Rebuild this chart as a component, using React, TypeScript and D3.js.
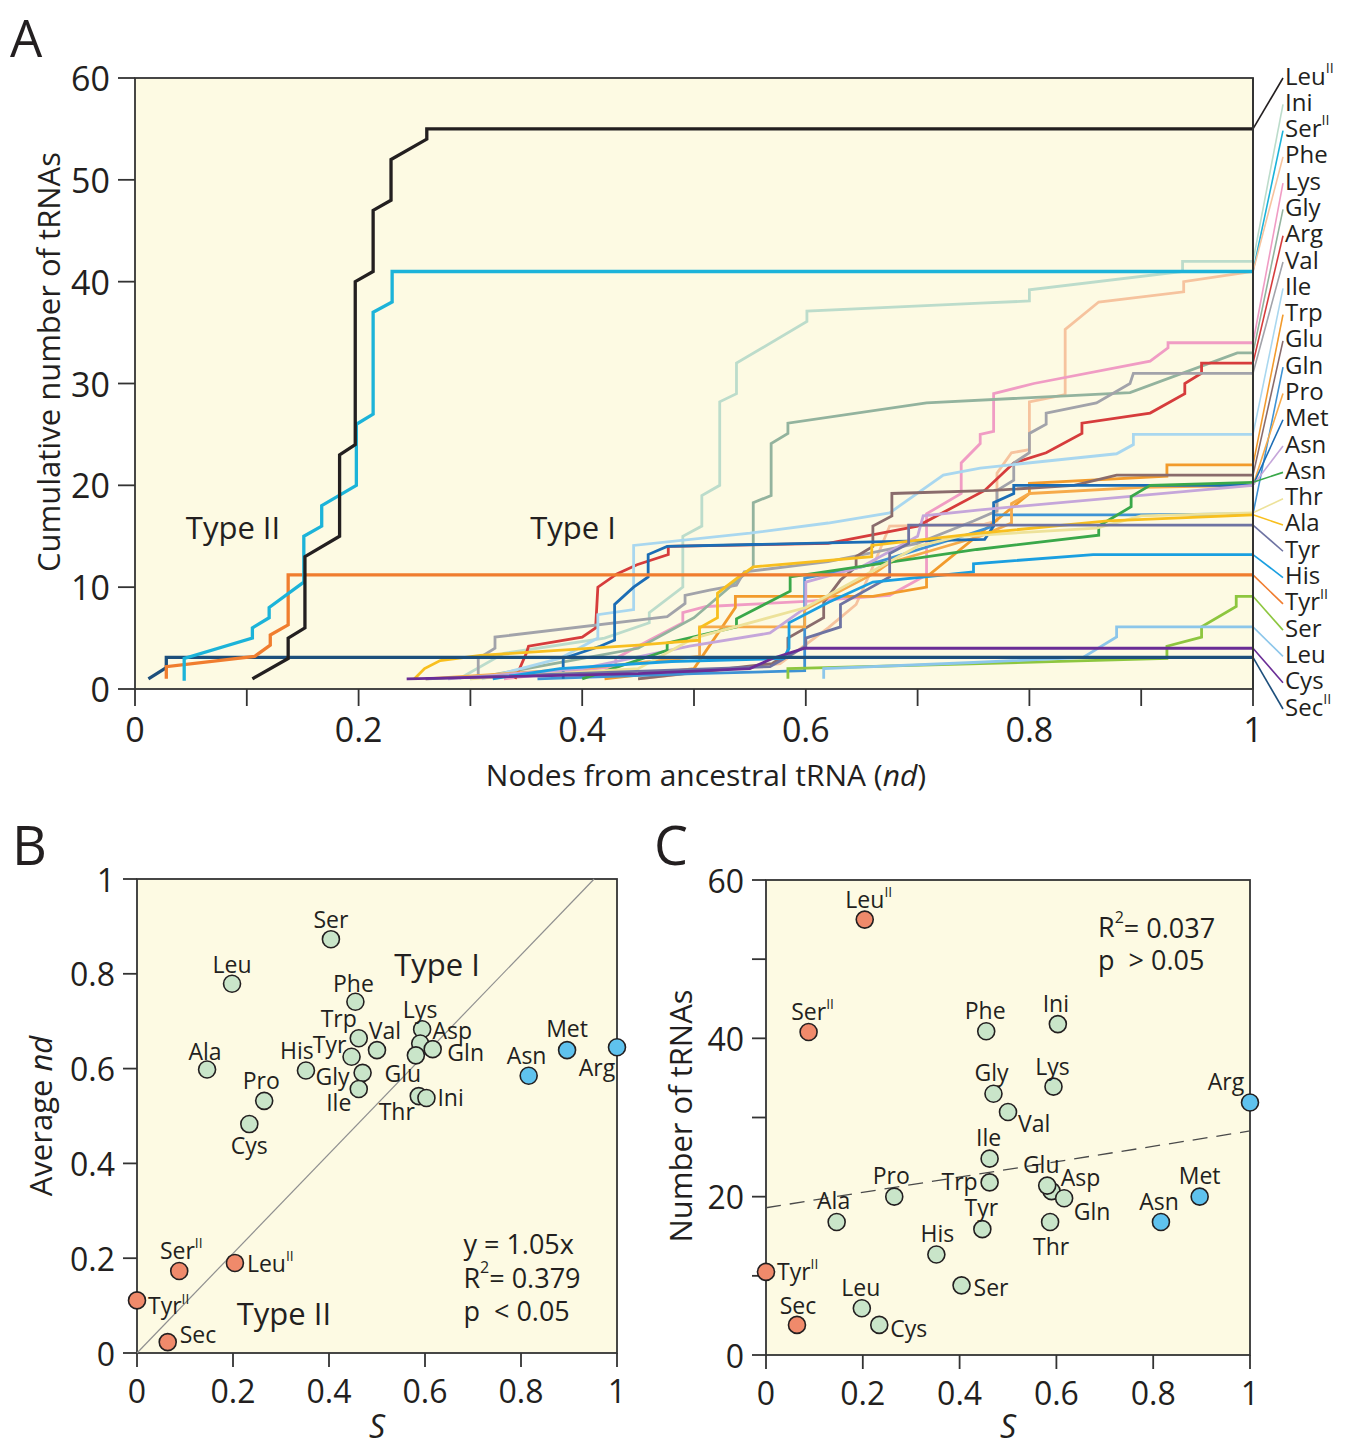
import React from 'react';
import * as d3 from 'd3';

const W = 1347;
const H = 1449;

// ---- Panel A: cumulative number of tRNAs vs nd, [nd, count] ----
const leuII = [[0.105, 1], [0.137, 3], [0.137, 5], [0.152, 6], [0.152, 13], [0.183, 15], [0.183, 23], [0.197, 24], [0.197, 40], [0.213, 41], [0.213, 47], [0.229, 48], [0.229, 52], [0.261, 54], [0.261, 55], [1, 55]];
const ini = [[0.29, 1], [0.33, 3.5], [0.42, 5], [0.46, 6.5], [0.46, 7.5], [0.49, 10], [0.49, 15], [0.507, 16], [0.507, 19], [0.523, 20], [0.523, 28.2], [0.538, 29], [0.538, 32], [0.601, 36.1], [0.601, 37.1], [0.756, 37.9], [0.8, 38.1], [0.8, 39.2], [0.937, 41], [0.937, 42], [1, 42]];
const serII = [[0.044, 0.8], [0.044, 3], [0.105, 5], [0.105, 6], [0.12, 7], [0.12, 8], [0.151, 10.5], [0.151, 15], [0.167, 16], [0.167, 18], [0.198, 20], [0.198, 26], [0.213, 27], [0.213, 37], [0.23, 38], [0.23, 41], [1, 41]];
const phe = [[0.45, 1], [0.577, 2.5], [0.62, 6], [0.645, 8.3], [0.66, 12], [0.675, 16], [0.76, 16.2], [0.771, 16.5], [0.771, 21.2], [0.784, 23.2], [0.8, 23.5], [0.8, 28.2], [0.832, 28.9], [0.832, 35.3], [0.862, 38], [0.938, 39], [0.938, 40], [1, 41]];
const lys = [[0.33, 1], [0.43, 2.2], [0.43, 3], [0.46, 4.8], [0.49, 6.5], [0.49, 7.5], [0.511, 8.1], [0.6, 8.6], [0.675, 9.2], [0.708, 11.2], [0.708, 17.2], [0.739, 19.2], [0.739, 22.2], [0.756, 24.1], [0.756, 25], [0.768, 25.3], [0.768, 29], [0.804, 30], [0.908, 32.2], [0.924, 33.5], [0.924, 34], [1, 34]];
const gly = [[0.3, 1], [0.45, 4], [0.5, 7], [0.553, 12], [0.553, 18.3], [0.569, 19], [0.569, 24.1], [0.584, 25.1], [0.584, 26.1], [0.708, 28.1], [0.89, 29.1], [0.986, 33], [1, 33]];
const arg = [[0.34, 1], [0.35, 3.5], [0.352, 4.2], [0.4, 5.1], [0.412, 6], [0.414, 10], [0.431, 11.3], [0.449, 12.2], [0.477, 13.2], [0.477, 14], [0.62, 14.3], [0.7, 16], [0.76, 19.5], [0.786, 22.2], [0.815, 23.2], [0.847, 25.1], [0.847, 26.1], [0.908, 27.1], [0.939, 29], [0.939, 30], [0.954, 31], [0.954, 32], [1, 32]];
const val = [[0.307, 1], [0.307, 3], [0.322, 4], [0.322, 5.1], [0.476, 7.1], [0.492, 8.4], [0.492, 9.2], [0.514, 9.7], [0.538, 10.2], [0.545, 11.5], [0.62, 12.5], [0.7, 14.3], [0.75, 16.5], [0.771, 17.5], [0.771, 19.5], [0.786, 20.5], [0.786, 22.2], [0.8, 23.2], [0.8, 25.1], [0.815, 26], [0.815, 27.1], [0.86, 28.1], [0.89, 30], [0.893, 31], [1, 31]];
const ile = [[0.31, 1], [0.38, 3], [0.414, 5], [0.414, 7.3], [0.446, 7.8], [0.446, 14.1], [0.55, 15.3], [0.62, 16.3], [0.675, 17.3], [0.723, 21], [0.756, 21.7], [0.878, 23.1], [0.893, 24], [0.893, 25], [1, 25]];
const trp = [[0.42, 1], [0.5, 2], [0.537, 8], [0.537, 9.1], [0.66, 9.1], [0.708, 10], [0.708, 11], [0.8, 19.2], [0.8, 20.2], [0.923, 20.9], [0.923, 22], [1, 22]];
const glu = [[0.45, 1], [0.57, 2.5], [0.584, 3.5], [0.584, 5], [0.616, 7], [0.616, 8.5], [0.631, 10.7], [0.645, 12], [0.645, 13], [0.66, 14], [0.66, 16], [0.677, 17], [0.677, 19.2], [0.768, 19.5], [0.84, 20], [0.878, 21], [1, 21]];
const gln = [[0.36, 1], [0.5, 1.5], [0.599, 1.8], [0.599, 10.9], [0.65, 12], [0.74, 15], [0.768, 16], [0.768, 17.1], [0.89, 17.1], [1, 17.2]];
const pro = [[0.26, 1], [0.4, 2], [0.505, 3.2], [0.505, 6.1], [0.599, 6.1], [0.599, 7.8], [0.662, 11.4], [0.675, 12.4], [0.756, 15], [0.784, 16.3], [0.784, 18.2], [0.8, 19.2], [0.9, 19.8], [1, 20]];
const met = [[0.383, 1], [0.383, 3], [0.416, 4.2], [0.429, 4.8], [0.429, 8.3], [0.446, 10], [0.459, 11], [0.459, 13.2], [0.476, 14], [0.76, 14.7], [0.768, 16], [0.768, 18.3], [0.786, 19.2], [0.786, 20], [1, 20]];
const asnA = [[0.28, 1], [0.4, 2], [0.496, 4.2], [0.568, 5.5], [0.6, 8], [0.6, 10.5], [0.65, 12], [0.7, 15], [0.705, 17], [0.756, 17.6], [1, 20]];
const asnB = [[0.4, 1], [0.476, 3.8], [0.476, 4.5], [0.538, 6.1], [0.538, 6.9], [0.586, 9.6], [0.586, 11], [0.753, 13.7], [0.862, 15.1], [0.862, 16], [0.891, 17.9], [0.891, 18.9], [0.908, 20], [1, 20.3]];
const thr = [[0.3, 1], [0.45, 2], [0.5, 5], [0.6, 8], [0.65, 11], [0.7, 14], [0.738, 15], [0.86, 15.8], [0.9, 17], [1, 17.3]];
const ala = [[0.25, 1], [0.259, 2], [0.273, 2.8], [0.309, 3.3], [0.45, 4.3], [0.505, 4.8], [0.505, 6], [0.521, 7], [0.521, 9.4], [0.54, 11], [0.553, 12], [0.659, 13], [0.659, 14.1], [0.756, 15.3], [0.87, 16.5], [1, 17.1]];
const tyr = [[0.26, 1], [0.568, 2.2], [0.6, 4.2], [0.6, 5], [0.631, 6.1], [0.631, 8.3], [0.675, 11], [0.675, 13.3], [0.692, 14.3], [0.692, 16.1], [1, 16.1]];
const his = [[0.32, 1], [0.38, 2], [0.48, 2.7], [0.58, 3], [0.585, 4], [0.585, 6.5], [0.62, 8.5], [0.66, 10.5], [0.75, 11.5], [0.75, 12.3], [0.857, 13.2], [1, 13.2]];
const tyrII = [[0.028, 1], [0.028, 2.2], [0.107, 3.2], [0.121, 4.3], [0.121, 5.3], [0.137, 6.3], [0.137, 11.2], [1, 11.2]];
const ser = [[0.584, 1], [0.584, 2], [0.756, 2.5], [0.923, 3], [0.923, 4.2], [0.954, 5.1], [0.954, 6.1], [0.985, 8.1], [0.985, 9.1], [1, 9.1]];
const leu = [[0.616, 1], [0.616, 2], [0.75, 2.6], [0.848, 3.1], [0.878, 5.1], [0.878, 6.1], [1, 6.1]];
const cys = [[0.243, 1], [0.45, 1.5], [0.55, 2], [0.57, 3], [0.599, 4], [1, 4]];
const secII = [[0.012, 1], [0.028, 2.1], [0.028, 3.1], [1, 3.1]];

// legend order, top to bottom
const curveNames = ['Leu^II', 'Ini', 'Ser^II', 'Phe', 'Lys', 'Gly', 'Arg', 'Val', 'Ile', 'Trp', 'Glu', 'Gln', 'Pro', 'Met', 'Asn', 'Asn', 'Thr', 'Ala', 'Tyr', 'His', 'Tyr^II', 'Ser', 'Leu', 'Cys', 'Sec^II'];
const curveData = [leuII, ini, serII, phe, lys, gly, arg, val, ile, trp, glu, gln, pro, met, asnA, asnB, thr, ala, tyr, his, tyrII, ser, leu, cys, secII];
const curveColors = ['#231f20', '#bcdccb', '#1cb3d9', '#f6c39e', '#f09cc4', '#93b39e', '#d63c3c', '#a2a3aa', '#a9d7ef', '#f29b2c', '#8a6c6c', '#3f93d4', '#f6aa4a', '#1c6db5', '#c5a6da', '#3aa84a', '#ede29a', '#f8bf1e', '#6e73a2', '#1a9fe0', '#f07d2f', '#8dc63f', '#8cc6ea', '#6a2d96', '#1d4f7c'];

// ---- Panels B and C ----
const aaNames = ['Ser', 'Leu', 'Phe', 'Lys', 'Trp', 'Asp', 'Gln', 'Val', 'Tyr', 'Glu', 'His', 'Gly', 'Ile', 'Thr', 'Ini', 'Ala', 'Pro', 'Cys', 'Met', 'Asn', 'Arg', 'Ser^II', 'Leu^II', 'Tyr^II', 'Sec'];
const sValues = [0.404, 0.198, 0.455, 0.594, 0.462, 0.59, 0.616, 0.5, 0.447, 0.581, 0.352, 0.47, 0.462, 0.587, 0.603, 0.146, 0.265, 0.234, 0.896, 0.816, 1.0, 0.088, 0.204, 0.0, 0.064];
const avgNd = [0.873, 0.779, 0.741, 0.683, 0.664, 0.653, 0.641, 0.639, 0.625, 0.628, 0.596, 0.591, 0.557, 0.542, 0.538, 0.598, 0.532, 0.483, 0.639, 0.585, 0.645, 0.173, 0.19, 0.111, 0.023];
const tRNACounts = [8.8, 5.9, 40.9, 33.9, 21.8, 20.7, 19.8, 30.7, 15.9, 21.4, 12.7, 33, 24.8, 16.8, 41.8, 16.8, 20, 3.8, 20, 16.8, 31.9, 40.8, 55, 10.5, 3.8];
const aaGroup = ['I', 'I', 'I', 'I', 'I', 'I', 'I', 'I', 'I', 'I', 'I', 'I', 'I', 'I', 'I', 'I', 'I', 'I', 'X', 'X', 'X', 'II', 'II', 'II', 'II'];
const diagonalB = [[0, 0], [1 / 1.05, 1]];
const regressionC = [[0, 18.6], [1, 28.3]];

// label placement (offset in px from the dot)
const labelOffB = {
  Ser: [0, -20, 'middle'], Leu: [0, -20, 'middle'], Phe: [-2, -19, 'middle'], Lys: [-2, -20, 'middle'],
  Trp: [-20, -20, 'middle'], Asp: [32, -13, 'middle'], Gln: [33, 3, 'middle'], Val: [8, -20, 'middle'],
  Tyr: [-22, -13, 'middle'], Glu: [-13, 18, 'middle'], His: [-9, -20, 'middle'], Gly: [-30, 3, 'middle'],
  Ile: [-20, 13, 'middle'], Thr: [-22, 15, 'middle'], Ini: [11, -1, 'start'], Ala: [-2, -19, 'middle'],
  Pro: [-3, -21, 'middle'], Cys: [0, 21, 'middle'], Met: [0, -22, 'middle'], Asn: [-2, -21, 'middle'],
  Arg: [-20, 20, 'middle'], 'Ser^II': [2, -21, 'middle'], 'Leu^II': [12, 0, 'start'], 'Tyr^II': [11, 5, 'start'], Sec: [12, -8, 'start'],
};
const labelOffC = {
  'Leu^II': [4, -21, 'middle'], 'Ser^II': [4, -21, 'middle'], Phe: [-1, -21, 'middle'], Ini: [-2, -21, 'middle'],
  Gly: [-2, -22, 'middle'], Lys: [-1, -21, 'middle'], Val: [10, 11, 'start'], Arg: [-24, -21, 'middle'],
  Ile: [-1, -22, 'middle'], Trp: [-30, -1, 'middle'], Glu: [-6, -22, 'middle'], Asp: [29, -14, 'middle'],
  Gln: [28, 13, 'middle'], Met: [0, -22, 'middle'], Pro: [-3, -22, 'middle'], Ala: [-3, -22, 'middle'],
  Thr: [1, 24, 'middle'], Asn: [-2, -21, 'middle'], Tyr: [-1, -22, 'middle'], His: [1, -21, 'middle'],
  'Tyr^II': [11, -1, 'start'], Ser: [12, 2, 'start'], Leu: [-1, -21, 'middle'], Sec: [1, -20, 'middle'], Cys: [11, 3, 'start'],
};

const groupFill = { I: '#c9e5c9', II: '#f08a6b', X: '#5fc2ee' };

const Lbl = ({ text, size, ...rest }) => {
  const [base, sup] = text.split('^');
  return (
    <text fontSize={size} dominantBaseline="central" {...rest}>
      {base}
      {sup && <tspan fontSize={size * 0.6} dy={-size * 0.34}>{sup}</tspan>}
    </text>
  );
};

const AXIS = '#333';
const INK = '#231f20';

export default function App() {
  const xA = d3.scaleLinear().domain([0, 1]).range([135, 1253]);
  const yA = d3.scaleLinear().domain([0, 60]).range([689, 78]);
  const xB = d3.scaleLinear().domain([0, 1]).range([137, 617]);
  const yB = d3.scaleLinear().domain([0, 1]).range([1353, 879]);
  const xC = d3.scaleLinear().domain([0, 1]).range([766, 1250]);
  const yC = d3.scaleLinear().domain([0, 60]).range([1355, 880]);
  const legendY = d3.scalePoint().domain(d3.range(curveNames.length)).range([75, 706]);

  const lineA = d3.line().x(d => xA(d[0])).y(d => yA(d[1]));
  const typeII = ['Leu^II', 'Ser^II', 'Tyr^II', 'Sec^II'];
  const order = d3.range(curveNames.length).filter(i => !typeII.includes(curveNames[i]))
    .concat(d3.range(curveNames.length).filter(i => typeII.includes(curveNames[i])).reverse());

  const frame = (x, y, tickLen, xTicks, yTicks, xFmt, yFmt, tickSize, xLabelOn, yLabelOn) => {
    const [x0, x1] = x.range();
    const [y0, y1] = y.range();
    return (
      <g>
        <rect x={x0} y={y1} width={x1 - x0} height={y0 - y1} fill="#fdfae3" />
        <rect x={x0} y={y1} width={x1 - x0} height={y0 - y1} fill="none" stroke={AXIS} strokeWidth={1.8} />
        {xTicks.map((t, i) => (
          <g key={'x' + i}>
            <line x1={x(t)} x2={x(t)} y1={y0} y2={y0 + tickLen} stroke={AXIS} strokeWidth={1.8} />
            {xLabelOn(t) && (
              <text x={x(t)} y={y0 + tickLen + 36} textAnchor="middle" fontSize={tickSize} fill={INK}>{xFmt(t)}</text>
            )}
          </g>
        ))}
        {yTicks.map((t, i) => (
          <g key={'y' + i}>
            <line x1={x0 - tickLen} x2={x0} y1={y(t)} y2={y(t)} stroke={AXIS} strokeWidth={1.8} />
            {yLabelOn(t) && (
              <text x={x0 - tickLen - 8} y={y(t)} textAnchor="end" dominantBaseline="central" fontSize={tickSize} fill={INK}>{yFmt(t)}</text>
            )}
          </g>
        ))}
      </g>
    );
  };

  const fmtNum = d3.format('~g');

  const scatter = (x, y, yVals, offs) => (
    <g>
      {aaNames.map((n, i) => (
        <circle key={'c' + i} cx={x(sValues[i])} cy={y(yVals[i])} r={8.5} fill={groupFill[aaGroup[i]]} stroke={INK} strokeWidth={1.6} />
      ))}
      {aaNames.map((n, i) => {
        const o = offs[n];
        return (
          <Lbl key={'l' + i} text={n} size={23} x={x(sValues[i]) + o[0]} y={y(yVals[i]) + o[1]} textAnchor={o[2]} fill={INK} />
        );
      })}
    </g>
  );

  return (
    <svg width={W} height={H} style={{ position: 'absolute', left: 0, top: 0, background: '#fff' }} fontFamily='"Open Sans", "Noto Sans", sans-serif'>
      {/* Panel A */}
      <text x={10} y={57} fontSize={51} fill={INK}>A</text>
      {frame(xA, yA, 17, d3.range(0, 1.0001, 0.1), d3.range(0, 61, 10), fmtNum, fmtNum, 34,
        t => Math.round(t * 10) % 2 === 0, () => true)}
      <g fill="none" strokeLinejoin="miter">
        {order.map(i => (
          <path key={i} d={lineA(curveData[i])} stroke={curveColors[i]} strokeWidth={typeII.includes(curveNames[i]) ? 3.3 : 2.8} />
        ))}
      </g>
      {curveNames.map((n, i) => {
        const last = curveData[i][curveData[i].length - 1];
        return (
          <g key={'lg' + i}>
            <line x1={xA(1)} y1={yA(last[1])} x2={1283} y2={legendY(i) + 3} stroke={curveColors[i]} strokeWidth={1.6} />
            <Lbl text={n} size={24} x={1285} y={legendY(i)} fill={INK} />
          </g>
        );
      })}
      <rect x={xA(1) - 1} y={yA(60)} width={2} height={yA(0) - yA(60)} fill={AXIS} />
      <text x={233} y={527} textAnchor="middle" dominantBaseline="central" fontSize={31} fill={INK}>Type II</text>
      <text x={573} y={527} textAnchor="middle" dominantBaseline="central" fontSize={31} fill={INK}>Type I</text>
      <text transform="translate(48,362) rotate(-90)" textAnchor="middle" dominantBaseline="central" fontSize={31} fill={INK}>Cumulative number of tRNAs</text>
      <text x={706} y={786} textAnchor="middle" fontSize={30} fill={INK}>Nodes from ancestral tRNA (<tspan fontStyle="italic">nd</tspan>)</text>

      {/* Panel B */}
      <text x={12} y={865} fontSize={54} fill={INK}>B</text>
      {frame(xB, yB, 14, d3.range(0, 1.0001, 0.2), d3.range(0, 1.0001, 0.2), fmtNum, fmtNum, 32, () => true, () => true)}
      <line x1={xB(diagonalB[0][0])} y1={yB(diagonalB[0][1])} x2={xB(diagonalB[1][0])} y2={yB(diagonalB[1][1])} stroke="#8f8f8f" strokeWidth={1.2} />
      <text x={xB(0.625)} y={yB(0.82)} textAnchor="middle" dominantBaseline="central" fontSize={31} fill={INK}>Type I</text>
      <text x={xB(0.306)} y={yB(0.085)} textAnchor="middle" dominantBaseline="central" fontSize={31} fill={INK}>Type II</text>
      <text x={xB(0.68)} y={yB(0.232)} dominantBaseline="central" fontSize={27} fill={INK}>y = 1.05x</text>
      <text x={xB(0.68)} y={yB(0.16)} dominantBaseline="central" fontSize={27} fill={INK}>R<tspan fontSize={16} dy={-10}>2</tspan><tspan dy={10}>= 0.379</tspan></text>
      <text x={xB(0.68)} y={yB(0.09)} dominantBaseline="central" fontSize={27} fill={INK}>{'p\u00a0\u00a0< 0.05'}</text>
      {scatter(xB, yB, avgNd, labelOffB)}
      <text transform="translate(40,1116) rotate(-90)" textAnchor="middle" dominantBaseline="central" fontSize={31} fill={INK}>Average <tspan fontStyle="italic">nd</tspan></text>
      <text x={377} y={1438} textAnchor="middle" fontSize={32} fontStyle="italic" fill={INK}>S</text>

      {/* Panel C */}
      <text x={654} y={865} fontSize={54} fill={INK}>C</text>
      {frame(xC, yC, 14, d3.range(0, 1.0001, 0.2), d3.range(0, 61, 10), fmtNum, fmtNum, 32, () => true, t => t % 20 === 0)}
      <line x1={xC(regressionC[0][0])} y1={yC(regressionC[0][1])} x2={xC(regressionC[1][0])} y2={yC(regressionC[1][1])} stroke="#4a4a4a" strokeWidth={1.3} strokeDasharray="15 9" />
      <text x={xC(0.686)} y={yC(54.1)} dominantBaseline="central" fontSize={27} fill={INK}>R<tspan fontSize={16} dy={-10}>2</tspan><tspan dy={10}>= 0.037</tspan></text>
      <text x={xC(0.686)} y={yC(50)} dominantBaseline="central" fontSize={27} fill={INK}>{'p\u00a0\u00a0> 0.05'}</text>
      {scatter(xC, yC, tRNACounts, labelOffC)}
      <text transform="translate(680,1116) rotate(-90)" textAnchor="middle" dominantBaseline="central" fontSize={31} fill={INK}>Number of tRNAs</text>
      <text x={1008} y={1438} textAnchor="middle" fontSize={32} fontStyle="italic" fill={INK}>S</text>
    </svg>
  );
}
